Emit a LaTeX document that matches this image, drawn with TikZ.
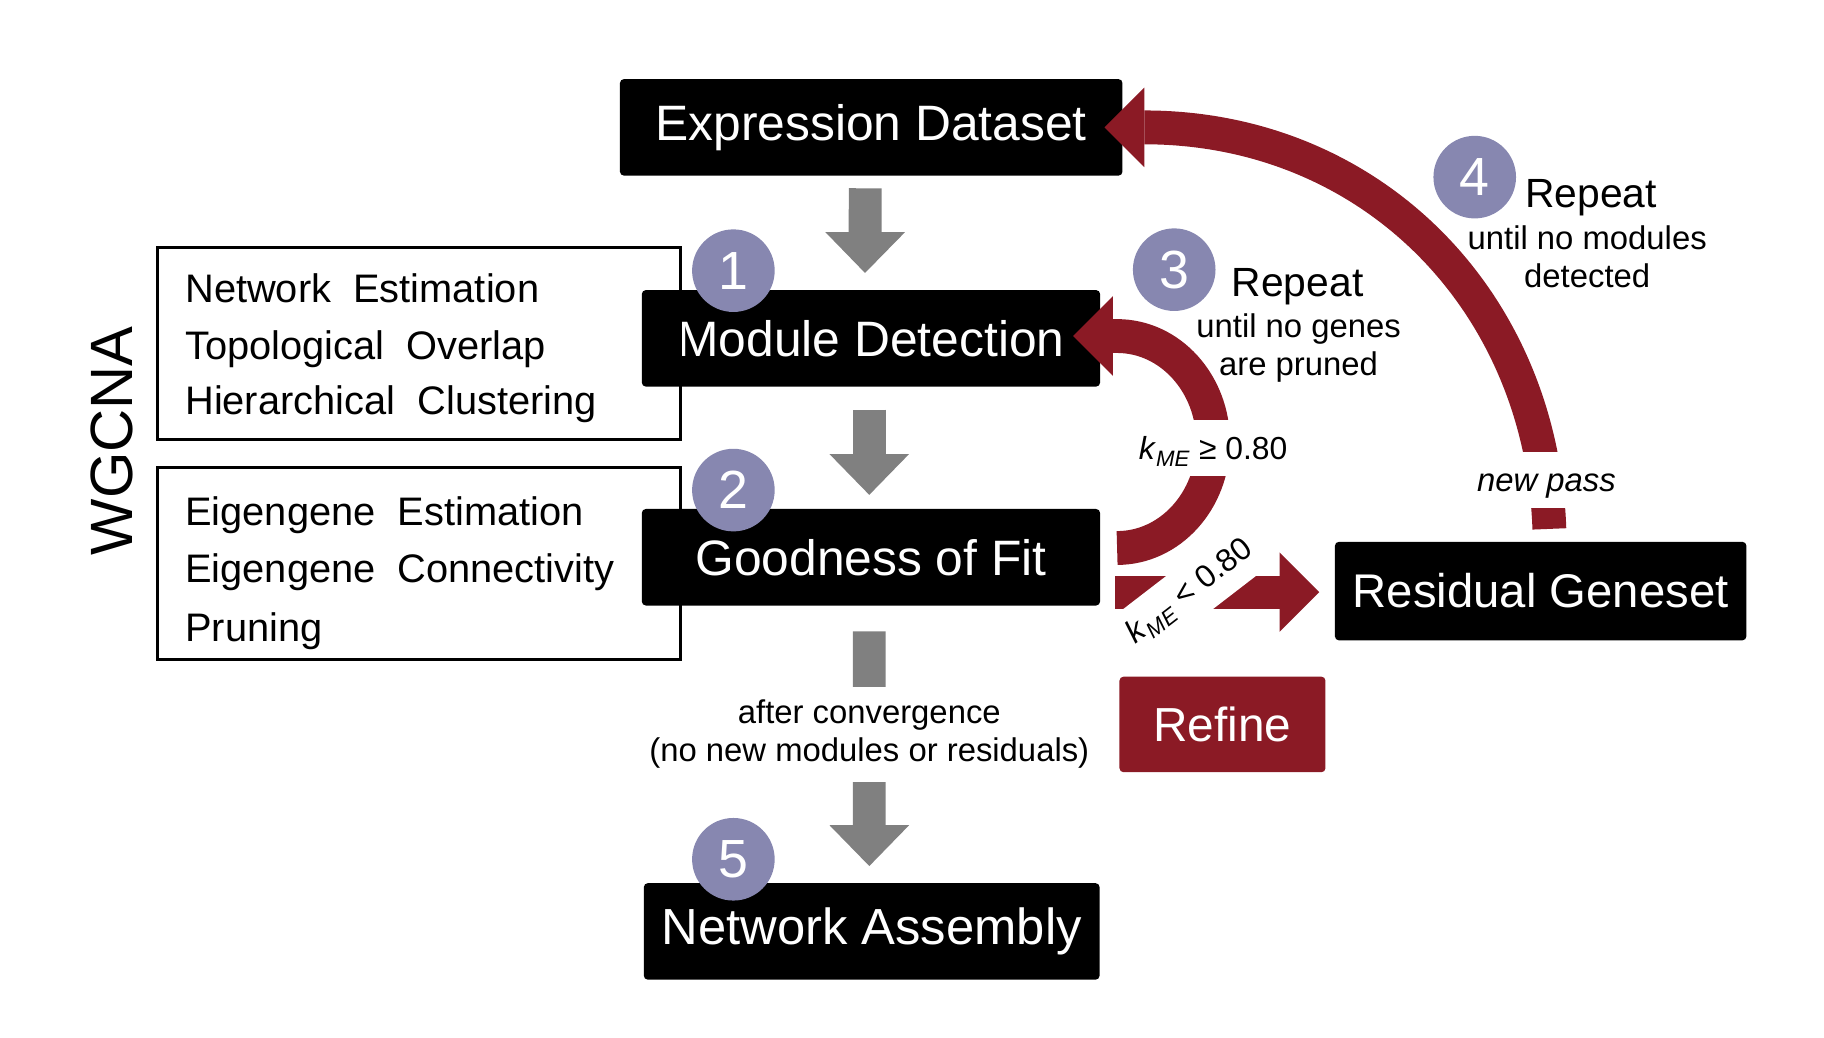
\documentclass[tikz,border=0pt]{standalone}
\usepackage{fontspec}
\setmainfont{Liberation Sans}
\usetikzlibrary{arrows.meta}
\definecolor{bordeaux}{HTML}{8B1A25}
\definecolor{lavande}{HTML}{8787B0}
\definecolor{gris}{HTML}{808080}
\newcommand{\kme}{\textit{k}\textsubscript{\textit{ME}}}
\tikzset{
  etape/.style={fill=black,text=white,rounded corners=4pt,inner sep=0pt,
    minimum height=97pt,font=\fontsize{50}{60}\selectfont},
  cadre/.style={draw=black,line width=3pt,inner sep=0pt,minimum width=526pt,minimum height=193pt},
  ligne/.style={anchor=base west,inner sep=0pt,font=\fontsize{40}{48}\selectfont},
  numero/.style={circle,fill=lavande,text=white,inner sep=0pt,minimum size=83pt,font=\fontsize{54}{60}\selectfont},
  flechegrise/.style={draw=gris,line width=33pt,-{Triangle[length=41pt,width=80pt,line width=0pt]}},
  flecherouge/.style={draw=bordeaux,line width=34pt,-{Triangle[length=40pt,width=80pt,line width=0pt]}},
  petit/.style={font=\fontsize{33}{38}\selectfont,align=center},
  seuil/.style={fill=white,inner xsep=2pt,inner ysep=0pt,font=\fontsize{32}{38}\selectfont}
}
\begin{document}
\begin{tikzpicture}[x=1pt,y=-1pt]
\useasboundingbox (0,0) rectangle (1833,1043); % cadre de l'image
% étapes principales
\node[etape,minimum width=505pt] (expr) at (875.5,128) {Expression Dataset};
\node[etape,minimum width=460.5pt] (module) at (875.25,340) {Module Detection};
\node[etape,minimum width=460.5pt] (fit) at (875.25,560) {Goodness of Fit};
\node[etape,minimum width=458pt,font=\fontsize{51}{60}\selectfont] (assembly) at (876,936) {Network Assembly};
\node[etape,minimum width=413.5pt,minimum height=99pt,font=\fontsize{47.5}{60}\selectfont] (residual) at (1548.25,594) {Residual Geneset};
\node[etape,fill=bordeaux,minimum width=207pt,minimum height=96pt,font=\fontsize{48}{60}\selectfont] (refine) at (1228.5,728) {Refine};
% encadrés WGCNA
\node[cadre] (wgcna1) at (421,345.5) {};
\node[cadre] (wgcna2) at (421,566.5) {};
\node[ligne] (l1) at (186,304) {Network\ \ Estimation};
\node[ligne] (l2) at (186,361) {Topological\ \ Overlap};
\node[ligne] (l3) at (186,417) {Hierarchical\ \ Clustering};
\node[ligne] (l4) at (186,528) {Eigengene\ \ Estimation};
\node[ligne] (l5) at (186,585) {Eigengene\ \ Connectivity};
\node[ligne] (l6) at (186,645) {Pruning};
\node[rotate=90,font=\fontsize{60}{70}\selectfont] (titre) at (112,443) {WGCNA};
% flèches grises, de haut en bas
\draw[flechegrise,shorten <=12.5pt,shorten >=17pt] ([xshift=-6pt]expr.south) -- ([xshift=-6pt]module.north);
\draw[flechegrise,shorten <=23pt,shorten >=14pt] ([xshift=-1.7pt]module.south) -- ([xshift=-1.7pt]fit.north);
\draw[flechegrise,shorten <=25.7pt,shorten >=17pt] ([xshift=-1.7pt]fit.south) -- ([xshift=-2.4pt]assembly.north);
\node[petit,fill=white,inner sep=0pt,minimum height=96pt] (conv) at (873.6,738) {after convergence\\(no new modules or residuals)};
% pastilles numérotées
\node[numero] (n1) at (737,272) {1};
\node[numero] (n2) at (737,492.5) {2};
\node[numero] (n5) at (737,863.5) {5};
\node[numero] (n3) at (1180,271) {3};
\node[numero] (n4) at (1482,178) {4};
% boucle 3 : retour vers Module Detection
\coordinate (d3) at (1122.6,550.7);
\coordinate (a3) at (1078.4,337.7);
\draw[flecherouge] (d3) arc[start angle=90,end angle=-90,x radius=96.5,y radius=106.5] -- (a3);
\node[seuil,minimum height=56pt,text height=23pt,text depth=0pt] (s1) at (1219,450) {\kme{} ≥ 0.80};
\node[font=\fontsize{41}{48}\selectfont] (rep3) at (1304,288) {Repeat};
\node[petit] (cond3) at (1305,350) {until no genes\\are pruned};
% vers Residual Geneset
\coordinate (d4) at (1120.6,595);
\draw[flecherouge,line width=33pt,shorten >=15.5pt] (d4) -- (d4 -| residual.west);
\node[seuil,rotate=37.6,minimum height=55pt] (s2) at (1196,595) {\kme{} < 0.80};
% boucle 4 : nouvelle passe
\coordinate (d5) at (1557,531.5);
\coordinate (a5) at (1110,128);
\draw[flecherouge] (d5) .. controls (1549,301) and (1377,128) .. (1150,128) -- (a5);
\node[seuil,font=\fontsize{33}{38}\selectfont\itshape,minimum height=56.5pt,text height=23.4pt,text depth=0pt] (pass) at (1554,482.3) {new pass};
\node[font=\fontsize{41}{48}\selectfont] (rep4) at (1599,199) {Repeat};
\node[petit] (cond4) at (1595,258) {until no modules\\detected};
\end{tikzpicture}
\end{document}
